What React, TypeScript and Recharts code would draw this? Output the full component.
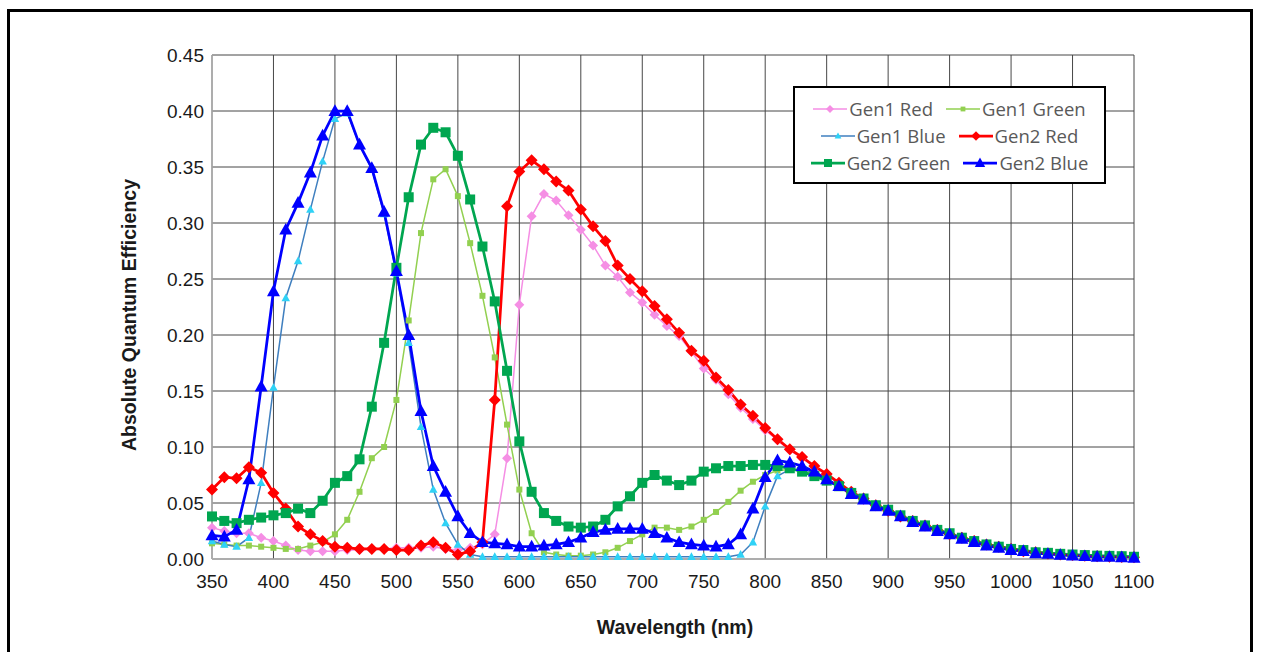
import { LineChart, Line, XAxis, YAxis, CartesianGrid, Label } from 'recharts'

const wavelengths = [
  350, 360, 370, 380, 390, 400, 410, 420, 430, 440,
  450, 460, 470, 480, 490, 500, 510, 520, 530, 540,
  550, 560, 570, 580, 590, 600, 610, 620, 630, 640,
  650, 660, 670, 680, 690, 700, 710, 720, 730, 740,
  750, 760, 770, 780, 790, 800, 810, 820, 830, 840,
  850, 860, 870, 880, 890, 900, 910, 920, 930, 940,
  950, 960, 970, 980, 990, 1000, 1010, 1020, 1030, 1040,
  1050, 1060, 1070, 1080, 1090, 1100,
]

const gen1Red = [
  0.028, 0.025, 0.023, 0.023, 0.019, 0.016, 0.012, 0.008, 0.007, 0.007,
  0.007, 0.008, 0.008, 0.009, 0.009, 0.010, 0.010, 0.010, 0.011, 0.009,
  0.008, 0.010, 0.013, 0.022, 0.090, 0.227, 0.306, 0.326, 0.320, 0.307,
  0.294, 0.280, 0.262, 0.252, 0.238, 0.229, 0.218, 0.208, 0.199, 0.185,
  0.170, 0.160, 0.147, 0.135, 0.125, 0.115, 0.106, 0.097, 0.090, 0.082,
  0.075, 0.067, 0.059, 0.053, 0.048, 0.043, 0.038, 0.034, 0.030, 0.026,
  0.022, 0.019, 0.016, 0.013, 0.011, 0.009, 0.007, 0.006, 0.005, 0.004,
  0.0035, 0.003, 0.0025, 0.002, 0.0018, 0.0015,
]

const gen1Green = [
  0.014, 0.013, 0.012, 0.012, 0.011, 0.010, 0.009, 0.009, 0.012, 0.015,
  0.022, 0.035, 0.060, 0.090, 0.100, 0.142, 0.213, 0.291, 0.339, 0.348,
  0.324, 0.282, 0.235, 0.180, 0.120, 0.062, 0.023, 0.006, 0.004, 0.003,
  0.003, 0.004, 0.006, 0.010, 0.016, 0.022, 0.028, 0.028, 0.026, 0.029,
  0.035, 0.042, 0.051, 0.061, 0.069, 0.075, 0.079, 0.080, 0.079, 0.076,
  0.071, 0.065, 0.059, 0.053, 0.048, 0.043, 0.038, 0.034, 0.030, 0.026,
  0.022, 0.019, 0.016, 0.013, 0.011, 0.009, 0.007, 0.006, 0.005, 0.004,
  0.0035, 0.003, 0.0025, 0.002, 0.0018, 0.0015,
]

const gen1Blue = [
  0.016, 0.013, 0.011, 0.019, 0.068, 0.153, 0.233, 0.266, 0.312, 0.355,
  0.393, 0.398, 0.370, 0.348, 0.308, 0.255, 0.193, 0.118, 0.062, 0.032,
  0.013, 0.004, 0.002, 0.002, 0.002, 0.002, 0.002, 0.002, 0.002, 0.002,
  0.002, 0.002, 0.002, 0.002, 0.002, 0.002, 0.002, 0.002, 0.002, 0.002,
  0.002, 0.002, 0.002, 0.004, 0.015, 0.047, 0.074, 0.080, 0.080, 0.077,
  0.071, 0.064, 0.058, 0.052, 0.047, 0.042, 0.037, 0.033, 0.029, 0.025,
  0.021, 0.018, 0.015, 0.012, 0.010, 0.008, 0.007, 0.005, 0.0045, 0.0036,
  0.003, 0.0025, 0.002, 0.0018, 0.0015, 0.001,
]

const gen2Red = [
  0.062, 0.073, 0.072, 0.082, 0.077, 0.059, 0.045, 0.029, 0.022, 0.016,
  0.011, 0.010, 0.009, 0.009, 0.009, 0.008, 0.008, 0.012, 0.015, 0.010,
  0.004, 0.007, 0.015, 0.142, 0.315, 0.346, 0.356, 0.348, 0.337, 0.329,
  0.312, 0.297, 0.284, 0.262, 0.250, 0.239, 0.226, 0.214, 0.202, 0.186,
  0.177, 0.162, 0.151, 0.138, 0.128, 0.117, 0.107, 0.098, 0.091, 0.083,
  0.076, 0.068, 0.060, 0.054, 0.048, 0.043, 0.038, 0.034, 0.030, 0.026,
  0.022, 0.019, 0.016, 0.013, 0.011, 0.009, 0.007, 0.006, 0.005, 0.004,
  0.0035, 0.003, 0.0025, 0.002, 0.0018, 0.0015,
]

const gen2Green = [
  0.038, 0.034, 0.032, 0.035, 0.037, 0.039, 0.041, 0.045, 0.041, 0.052,
  0.068, 0.074, 0.089, 0.136, 0.193, 0.260, 0.323, 0.370, 0.385, 0.381,
  0.360, 0.321, 0.279, 0.230, 0.168, 0.105, 0.060, 0.041, 0.034, 0.029,
  0.028, 0.029, 0.035, 0.047, 0.056, 0.068, 0.075, 0.070, 0.066, 0.070,
  0.078, 0.081, 0.083, 0.083, 0.084, 0.084, 0.083, 0.081, 0.078, 0.074,
  0.070, 0.065, 0.059, 0.054, 0.048, 0.044, 0.039, 0.034, 0.030, 0.026,
  0.023, 0.019, 0.016, 0.013, 0.011, 0.009, 0.008, 0.006, 0.0055, 0.0046,
  0.004, 0.0035, 0.003, 0.0028, 0.0025, 0.002,
]

const gen2Blue = [
  0.021, 0.020, 0.026, 0.071, 0.154, 0.239, 0.294, 0.318, 0.345, 0.378,
  0.400, 0.400, 0.370, 0.349, 0.310, 0.257, 0.200, 0.132, 0.083, 0.060,
  0.038, 0.023, 0.015, 0.014, 0.013, 0.011, 0.011, 0.012, 0.013, 0.015,
  0.019, 0.024, 0.026, 0.027, 0.027, 0.027, 0.023, 0.019, 0.015, 0.013,
  0.012, 0.011, 0.013, 0.022, 0.045, 0.073, 0.088, 0.086, 0.083, 0.078,
  0.071, 0.065, 0.058, 0.053, 0.047, 0.043, 0.038, 0.033, 0.029, 0.025,
  0.022, 0.018, 0.015, 0.012, 0.010, 0.008, 0.007, 0.005, 0.0045, 0.0036,
  0.003, 0.0025, 0.002, 0.0018, 0.0015, 0.001,
]

const xTicks = [350, 400, 450, 500, 550, 600, 650, 700, 750, 800, 850, 900, 950, 1000, 1050, 1100]
const yTicks = [0, 0.05, 0.1, 0.15, 0.2, 0.25, 0.3, 0.35, 0.4, 0.45]

const rows = wavelengths.map((wl, i) => ({
  wl,
  g1r: gen1Red[i],
  g1g: gen1Green[i],
  g1b: gen1Blue[i],
  g2r: gen2Red[i],
  g2g: gen2Green[i],
  g2b: gen2Blue[i],
}))

type Shape = 'diamond' | 'square' | 'triangle'

const series: {
  key: string
  name: string
  line: string
  fill: string
  width: number
  shape: Shape
  size: number
}[] = [
  { key: 'g1r', name: 'Gen1 Red', line: '#f58ee4', fill: '#f58ee4', width: 1.5, shape: 'diamond', size: 10 },
  { key: 'g1g', name: 'Gen1 Green', line: '#92d050', fill: '#92d050', width: 1.5, shape: 'square', size: 6 },
  { key: 'g1b', name: 'Gen1 Blue', line: '#3f7fbf', fill: '#2fd2f6', width: 1.5, shape: 'triangle', size: 8.5 },
  { key: 'g2r', name: 'Gen2 Red', line: '#ff0000', fill: '#ff0000', width: 2.75, shape: 'diamond', size: 12 },
  { key: 'g2g', name: 'Gen2 Green', line: '#00a650', fill: '#00a650', width: 2.75, shape: 'square', size: 10 },
  { key: 'g2b', name: 'Gen2 Blue', line: '#0000ff', fill: '#0000ff', width: 2.75, shape: 'triangle', size: 13 },
]

function drawMarker(shape: Shape, cx: number, cy: number, size: number, fill: string, key?: any) {
  const h = size / 2
  if (shape === 'square') {
    return <rect key={key} x={cx - h} y={cy - h} width={size} height={size} fill={fill} />
  }
  if (shape === 'diamond') {
    return (
      <polygon key={key} points={`${cx},${cy - h} ${cx + h},${cy} ${cx},${cy + h} ${cx - h},${cy}`} fill={fill} />
    )
  }
  return (
    <polygon
      key={key}
      points={`${cx},${cy - h * 1.05} ${cx + h},${cy + h * 0.75} ${cx - h},${cy + h * 0.75}`}
      fill={fill}
    />
  )
}

const makeDot = (shape: Shape, size: number, fill: string) => (p: any) => {
  const { cx, cy, index } = p
  if (cx == null || cy == null) return <g key={index} />
  return drawMarker(shape, cx, cy, size, fill, index)
}

const FONT = '"Liberation Sans", Arial, sans-serif'

function ChartLegend() {
  const lines = [series.slice(0, 2), series.slice(2, 4), series.slice(4, 6)]
  return (
    <div
      style={{
        position: 'absolute',
        left: 783,
        top: 74,
        width: 309,
        height: 94,
        border: '2px solid #000',
        background: '#fff',
        fontFamily: '"Open Sans", sans-serif',
        fontSize: 18.5,
        color: '#595959',
      }}
    >
      {lines.map((row, r) => (
        <div
          key={r}
          style={{
            position: 'absolute',
            left: 0,
            right: 0,
            top: 8 + r * 27,
            height: 26,
            display: 'flex',
            justifyContent: 'center',
            alignItems: 'center',
            gap: 13,
          }}
        >
          {row.map((s) => (
            <div key={s.key} style={{ display: 'flex', alignItems: 'center' }}>
              <svg width={34} height={16} style={{ marginRight: 2 }}>
                <line x1={0} y1={8} x2={34} y2={8} stroke={s.line} strokeWidth={s.width} />
                {drawMarker(s.shape, 17, 8, s.size * 0.8, s.fill)}
              </svg>
              <span style={{ lineHeight: '26px', whiteSpace: 'nowrap' }}>{s.name}</span>
            </div>
          ))}
        </div>
      ))}
    </div>
  )
}

export default function App() {
  return (
    <div
      style={{
        position: 'absolute',
        left: 7,
        top: 9,
        width: 1240,
        height: 640,
        borderTop: '3px solid #000',
        borderLeft: '3px solid #000',
        borderRight: '3px solid #000',
        background: '#fff',
      }}
    >
      <LineChart
        width={1240}
        height={640}
        data={rows}
        margin={{ top: 43, right: 116, left: 112, bottom: 53 }}
      >
        <CartesianGrid stroke="#474747" strokeWidth={1} />
        <XAxis
          dataKey="wl"
          type="number"
          domain={[350, 1100]}
          ticks={xTicks}
          interval={0}
          height={40}
          tickLine={false}
          tickSize={6}
          tickMargin={10}
          axisLine={{ stroke: '#b0b0b0', strokeWidth: 1.5 }}
          tick={{ fill: '#1a1a1a', fontSize: 19, fontFamily: FONT }}
        >
          <Label
            content={() => (
              <text
                x={665}
                y={622}
                textAnchor="middle"
                fill="#1a1a1a"
                fontSize={19.5}
                fontWeight="bold"
                fontFamily={FONT}
              >
                Wavelength (nm)
              </text>
            )}
          />
        </XAxis>
        <YAxis
          domain={[0, 0.45]}
          ticks={yTicks}
          interval={0}
          width={90}
          tickLine={false}
          tickSize={6}
          tickMargin={2}
          axisLine={{ stroke: '#b0b0b0', strokeWidth: 1.5 }}
          tickFormatter={(v: number) => v.toFixed(2)}
          tick={{ fill: '#1a1a1a', fontSize: 19, fontFamily: FONT }}
        >
          <Label
            content={() => (
              <text
                x={119}
                y={303}
                transform="rotate(-90, 119, 303)"
                textAnchor="middle"
                dominantBaseline="central"
                fill="#1a1a1a"
                fontSize={19.5}
                fontWeight="bold"
                fontFamily={FONT}
              >
                Absolute Quantum Efficiency
              </text>
            )}
          />
        </YAxis>
        {series.map((s) => (
          <Line
            key={s.key}
            dataKey={s.key}
            name={s.name}
            type="linear"
            stroke={s.line}
            strokeWidth={s.width}
            dot={makeDot(s.shape, s.size, s.fill)}
            activeDot={false}
            isAnimationActive={false}
          />
        ))}
      </LineChart>
      <ChartLegend />
    </div>
  )
}
